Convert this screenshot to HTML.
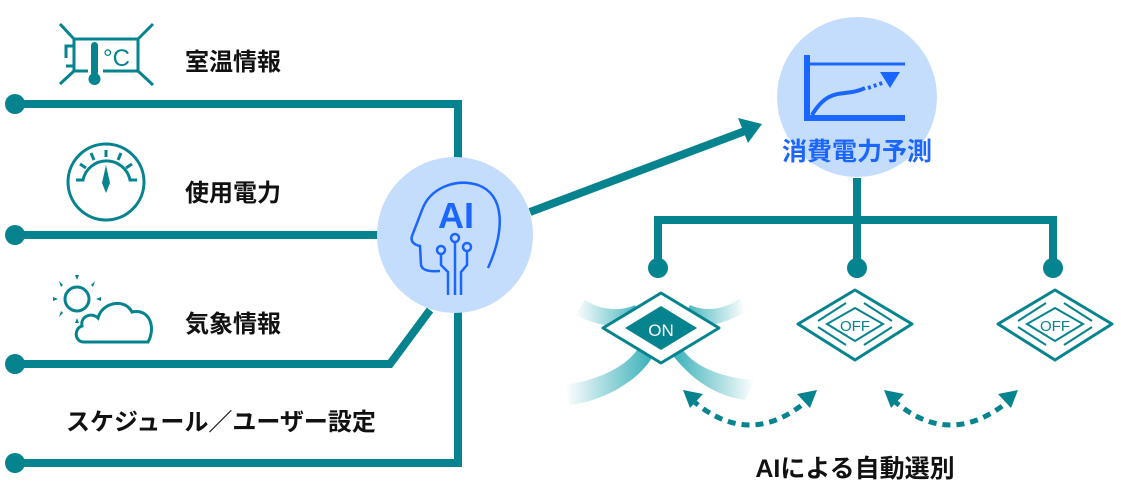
<!DOCTYPE html>
<html><head><meta charset="utf-8"><style>
html,body{margin:0;padding:0;background:#fff;}
svg{display:block;}
.t{font-family:"Liberation Sans","Noto Sans CJK JP",sans-serif;font-weight:bold;}
</style></head><body>
<svg width="1121" height="485" viewBox="0 0 1121 485" xmlns="http://www.w3.org/2000/svg">
<defs>
<linearGradient id="wl" x1="1" y1="0" x2="0" y2="0"><stop offset="0" stop-color="#009aa5"/><stop offset="1" stop-color="#009aa5" stop-opacity="0"/></linearGradient>
<linearGradient id="wr" x1="0" y1="0" x2="1" y2="0"><stop offset="0" stop-color="#009aa5"/><stop offset="1" stop-color="#009aa5" stop-opacity="0"/></linearGradient>
</defs>
<g stroke="#05838f" stroke-width="8" fill="none">
<polyline points="15,104 458,104 458,200"/>
<polyline points="15,235 380,235"/>
<polyline points="15,364 390,364 430,310"/>
<polyline points="15,463 458,463 458,300"/>
<line x1="530" y1="212" x2="745" y2="131"/>
<polyline points="857,178 857,220"/>
<polyline points="658,268 658,220 1053,220 1053,268"/>
<line x1="857" y1="220" x2="857" y2="268"/>
</g>
<polygon points="762,124 738,118 748,143" fill="#05838f"/>
<g fill="#05838f">
<circle cx="15" cy="104" r="10"/><circle cx="15" cy="235" r="10"/><circle cx="15" cy="364" r="10"/><circle cx="15" cy="463" r="10"/>
<circle cx="658" cy="268" r="10"/><circle cx="857" cy="268" r="10"/><circle cx="1053" cy="268" r="10"/>
</g>
<circle cx="455" cy="235" r="78" fill="#c5ddfc"/>
<g stroke="#1a66ff" stroke-width="2.5" fill="none">
<path d="M488,268 C505,230 505,195 478,185 C455,178 430,188 422,210 L412,236 C410,242 415,245 420,246 L421,265 C422,270 428,272 440,271"/>
<line x1="455" y1="243" x2="455" y2="295"/><circle cx="455" cy="238" r="4"/>
<path d="M441,255 L441,265 L448,272 L448,295"/><circle cx="441" cy="250" r="4"/>
<path d="M467,252 L467,265 L461,272 L461,295"/><circle cx="467" cy="247" r="4"/>
</g>
<text x="456" y="228" class="t" font-size="36" fill="#1a66ff" text-anchor="middle">AI</text>
<circle cx="857" cy="97" r="80" fill="#c5ddfc"/>
<g stroke="#1a66ff" fill="none">
<path d="M807,55 L807,118 L905,118" stroke-width="6"/>
<line x1="807" y1="64" x2="905" y2="64" stroke-width="3"/>
<path d="M812,115 C830,85 845,98 865,88" stroke-width="4"/>
<path d="M868,88 L885,82" stroke-width="4" stroke-dasharray="3,3"/>
</g>
<polygon points="880,72 900,72 890,88" fill="#1a66ff"/>
<text x="857" y="160" class="t" font-size="25" fill="#1a66ff" text-anchor="middle">消費電力予測</text>
<text x="185" y="70" class="t" font-size="24" fill="#111">室温情報</text>
<text x="185" y="201" class="t" font-size="24" fill="#111">使用電力</text>
<text x="185" y="332" class="t" font-size="24" fill="#111">気象情報</text>
<text x="66" y="430" class="t" font-size="24" fill="#111">スケジュール／ユーザー設定</text>
<text x="855" y="477" class="t" font-size="25" fill="#111" text-anchor="middle">AIによる自動選別</text>
<g stroke="#05838f" stroke-width="3" fill="none">
<path d="M74,39 L138,39 L138,71 L103,71 M88,71 L74,71 L74,39"/>
<line x1="60" y1="24" x2="74" y2="39"/><line x1="153" y1="24" x2="138" y2="39"/>
<line x1="60" y1="84" x2="74" y2="71"/><line x1="153" y1="85" x2="138" y2="71"/>
<path d="M74,46 L66,46 L66,58 M74,66 L66,66"/>
</g>
<rect x="91" y="42" width="7" height="34" rx="3.5" fill="#05838f"/><circle cx="94.5" cy="79" r="6" fill="#05838f"/>
<text x="103" y="66" font-family="Liberation Sans,sans-serif" font-size="24" fill="#05838f">°C</text>
<g stroke="#05838f" stroke-width="3" fill="none">
<circle cx="106" cy="182" r="38"/>
<path d="M76,180 L83,180 A24,24 0 0 1 130,180 L137,180"/>
<line x1="106" y1="150" x2="106" y2="157"/><line x1="91" y1="153" x2="94" y2="160"/><line x1="121" y1="153" x2="118" y2="160"/>
<line x1="80" y1="164" x2="86" y2="168"/><line x1="132" y1="164" x2="126" y2="168"/>
</g>
<polygon points="106,165 110,183 106,193 102,183" fill="#05838f"/>
<g stroke="#05838f" stroke-width="3" fill="none">
<circle cx="77" cy="299" r="12"/>
<path d="M84,342 C74,342 74,328 82,326 C80,316 92,312 98,318 C102,302 125,298 132,312 C150,308 156,328 148,342 Z" fill="#fff"/>
</g>
<g fill="#05838f">
<polygon points="77,280 75,275 79,275"/><polygon points="77,318 75,323 79,323"/>
<polygon points="58,299 53,297 53,301"/><polygon points="96,299 101,297 101,301"/>
<polygon points="63,285 59,281 61,287"/><polygon points="91,285 95,281 93,287"/>
<polygon points="63,313 59,317 61,311"/>
</g>
<path d="M585,300 C600,310 620,312 635,305 L645,325 C620,330 595,325 575,315Z" fill="url(#wl)" opacity="0.8"/>
<path d="M740,298 C725,310 705,312 690,305 L680,325 C705,330 728,322 745,312Z" fill="url(#wr)" opacity="0.8"/>
<path d="M640,345 C630,365 600,380 565,385 L570,405 C610,400 645,375 655,352Z" fill="url(#wl)" opacity="0.8"/>
<path d="M680,345 C690,365 720,378 755,380 L745,400 C710,395 688,375 670,352Z" fill="url(#wr)" opacity="0.8"/>
<g stroke="#05838f" stroke-width="3" fill="#fff" stroke-linejoin="round">
<polygon points="661,293 719,328 661,363 603,328"/>
<polygon points="855,290 912,324 855,360 798,324"/>
<polygon points="1055,290 1112,324 1055,360 998,324"/>
</g>
<polygon points="661,306 697,328 661,350 625,328" fill="#05838f"/>
<text x="661" y="336" font-family="Liberation Sans,sans-serif" font-size="17" fill="#fff" text-anchor="middle">ON</text>
<g stroke="#05838f" stroke-width="2" fill="none">
<polygon points="855,308 883,324 855,341 827,324"/>
<polygon points="1055,308 1083,324 1055,341 1027,324"/>
<path d="M818,321 L846,303 M864,303 L892,321 M818,327 L846,345 M864,345 L892,327"/>
<path d="M1018,321 L1046,303 M1064,303 L1092,321 M1018,327 L1046,345 M1064,345 L1092,327"/>
</g>
<text x="855" y="331" font-family="Liberation Sans,sans-serif" font-size="15" fill="#05838f" text-anchor="middle">OFF</text>
<text x="1055" y="331" font-family="Liberation Sans,sans-serif" font-size="15" fill="#05838f" text-anchor="middle">OFF</text>
<g stroke="#05838f" stroke-width="5" fill="none" stroke-dasharray="8,6">
<path d="M692,400 Q750,450 808,400"/>
<path d="M893,400 Q950,450 1010,400"/>
</g>
<g fill="#05838f">
<polygon points="683,390 703,394 690,408"/>
<polygon points="817,390 797,394 810,408"/>
<polygon points="884,390 904,394 891,408"/>
<polygon points="1018,390 998,394 1011,408"/>
</g>
</svg>
</body></html>
